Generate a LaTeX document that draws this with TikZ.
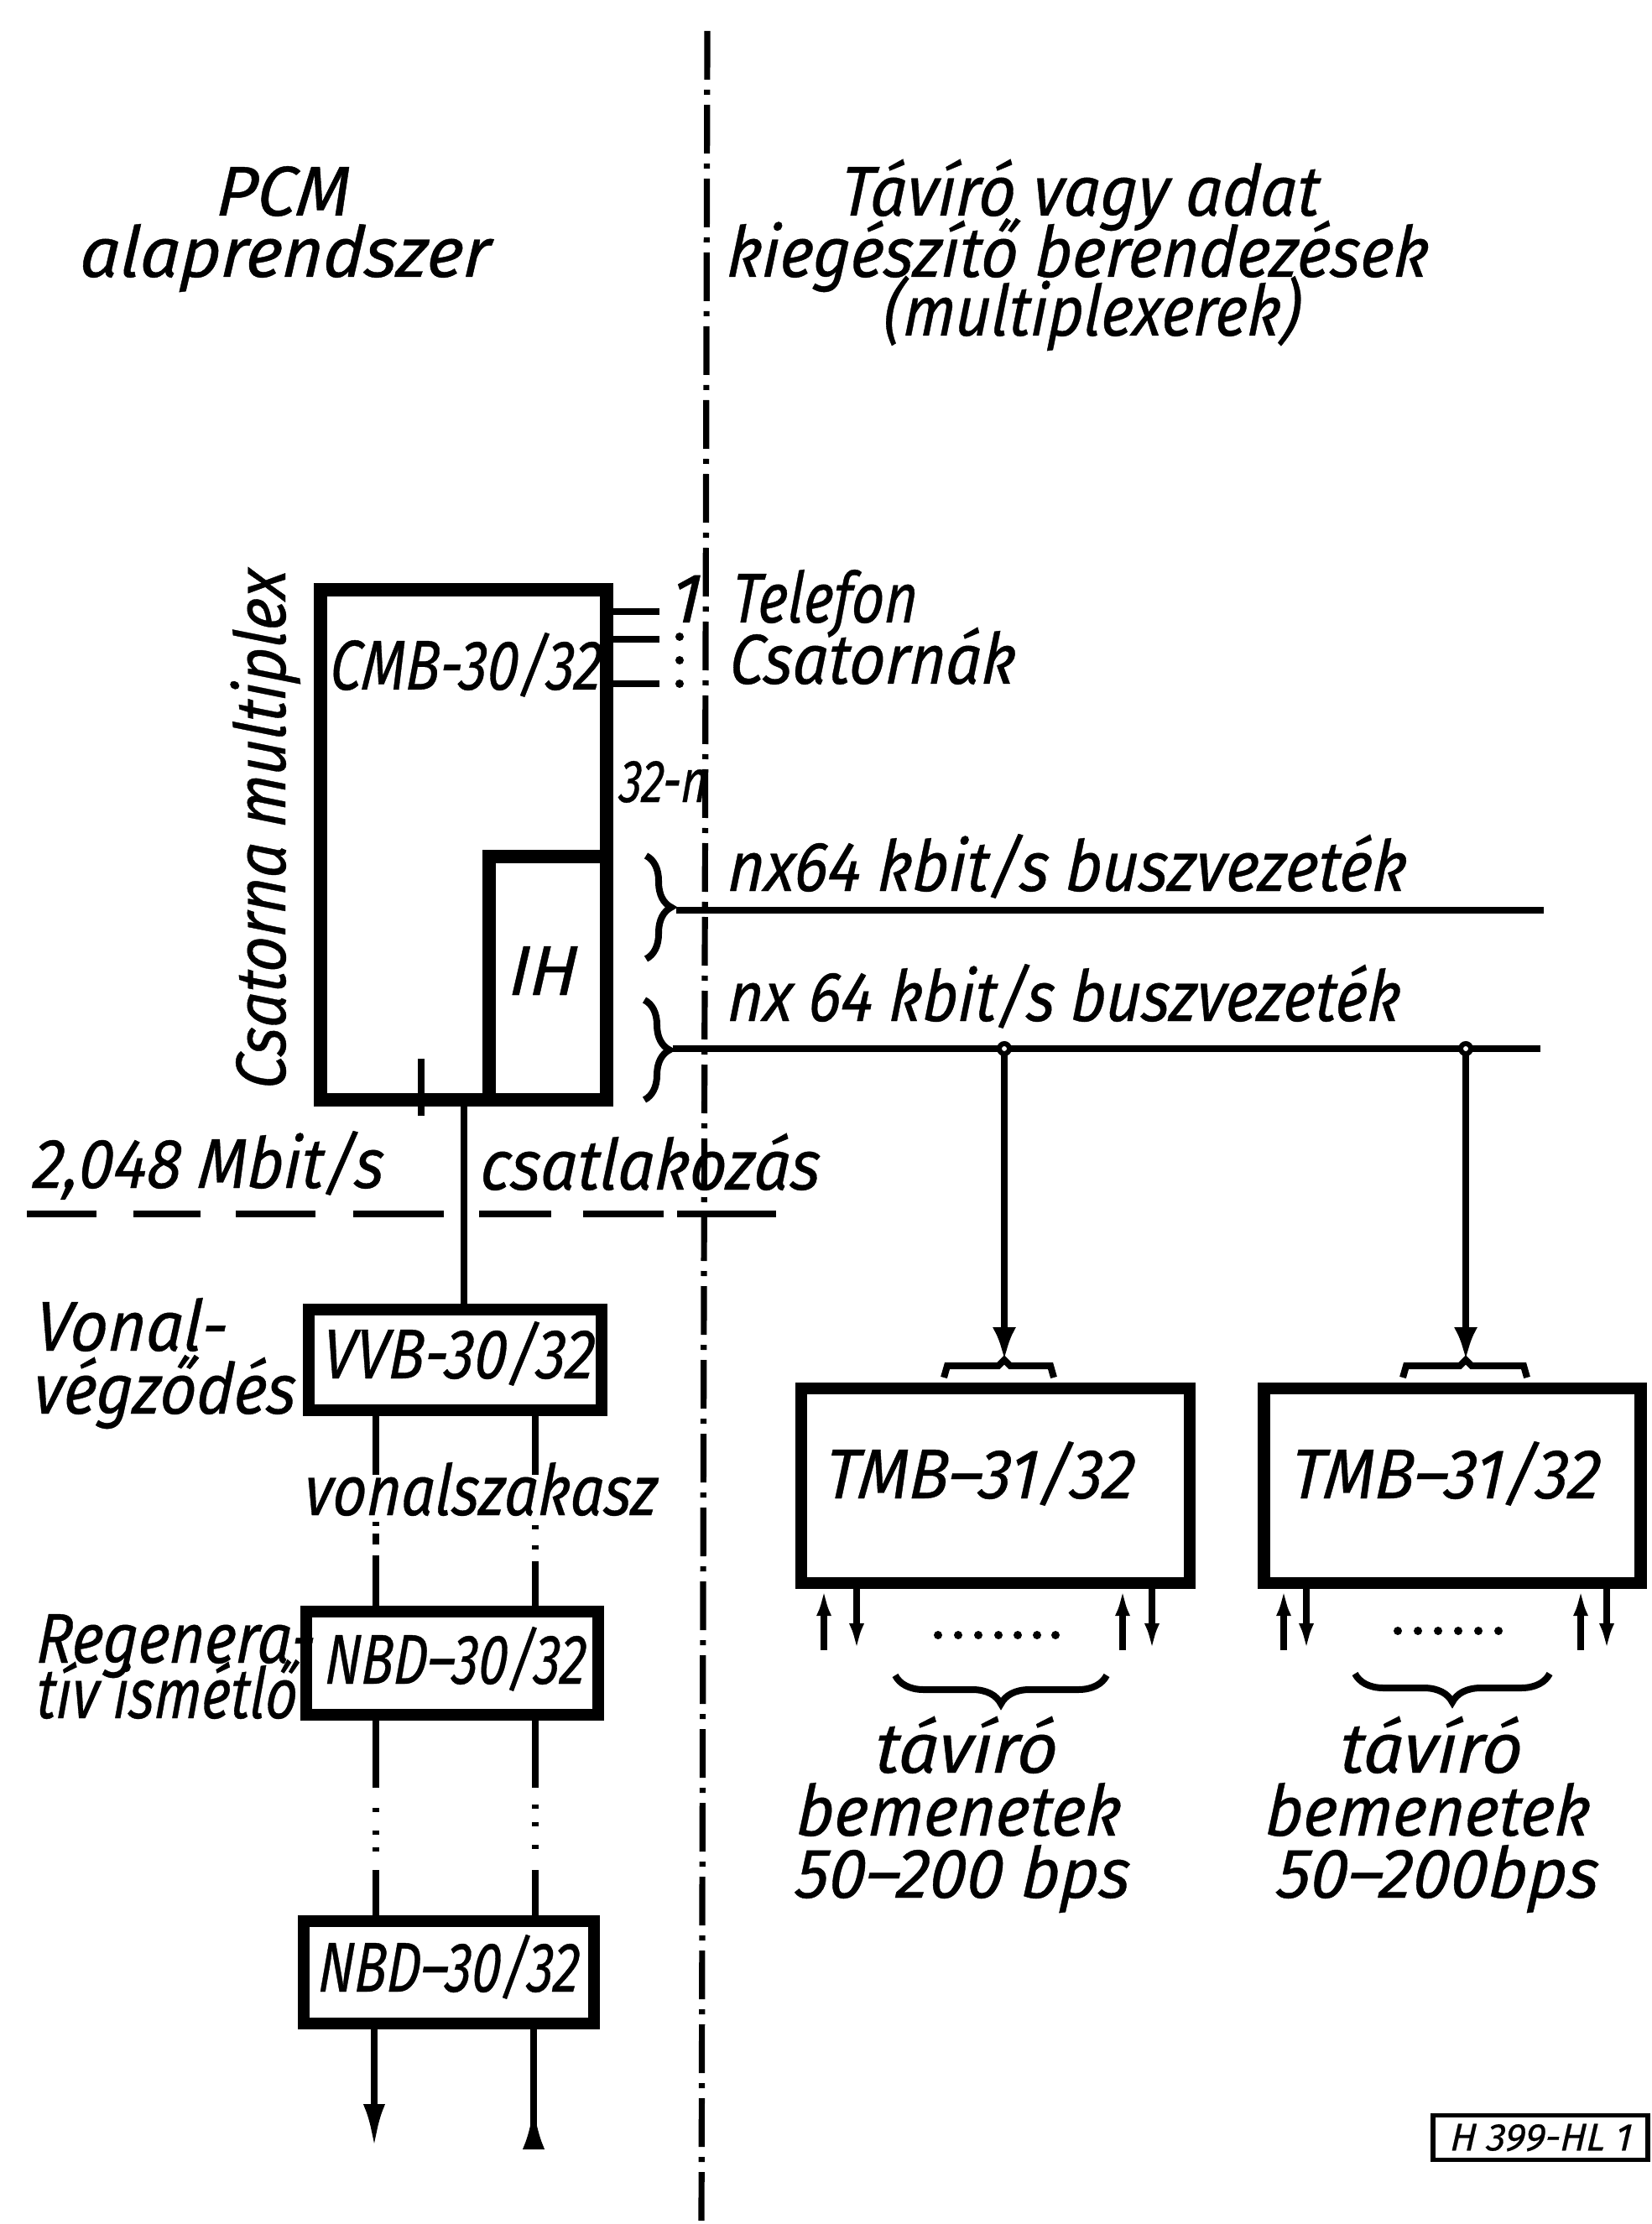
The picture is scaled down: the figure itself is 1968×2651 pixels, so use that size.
\documentclass[tikz,border=0pt]{standalone}
\usepackage{graphicx}
\usepackage{fontspec}
\setmainfont{Fira Sans}[FakeBold=0.5, ItalicFeatures={FakeSlant=0.09}]
\usetikzlibrary{arrows.meta,decorations.pathreplacing}
\newlength{\pu}
\setlength{\pu}{0.25pt}
\newcommand{\hs}[2]{\scalebox{#1}[1]{#2}}
\begin{document}
\begin{tikzpicture}[x=0.25pt, y=-0.25pt,
  lbl/.style={font=\fontsize{21pt}{25pt}\selectfont\itshape, inner sep=0pt, outer sep=0pt, text height=14.5pt, text depth=3.5pt},
  smalllbl/.style={font=\fontsize{18pt}{21pt}\selectfont\itshape, inner sep=0pt, outer sep=0pt, text height=12.5pt, text depth=3pt},
  box/.style={draw, line width=3.6pt, inner sep=0pt},
  thinline/.style={line width=2pt},
  busline/.style={line width=2.1pt},
  brc/.style={decorate, decoration={brace, amplitude=7.5pt}, line width=2pt},
  dotmark/.style={fill=black},
  bigarrow/.style={thinline, -{Latex[length=10pt,width=7pt]}},
  smallarrow/.style={thinline, -{Latex[length=8pt,width=4.5pt]}},
  endarrow/.style={thinline, -{Latex[length=13pt,width=6.5pt]}},
  endarrowrev/.style={thinline, -{Latex[length=13pt,width=6.5pt,reversed]}},
  junction/.style={circle, draw, fill=white, line width=1.5pt, inner sep=0pt, minimum size=12\pu}
  ]
\useasboundingbox (0,0) rectangle (1968,2651);

% separator (dash-dot)
\coordinate (sepT) at (843,37);
\coordinate (sepB) at (836,2651);
\draw[line width=1.8pt, dash pattern=on 14.5pt off 3pt on 1.5pt off 3pt] (sepT) -- (sepB);

% titles
\node[lbl, anchor=base] (pcm) at (336,257) {PCM};
\node[lbl, anchor=base] (alap) at (338,330) {alaprendszer};
\node[lbl, anchor=base] (tt1) at (1286,257) {\hs{0.915}{Távíró vagy adat}};
\node[lbl, anchor=base] (tt2) at (1283,330) {\hs{0.915}{kiegészítő berendezések}};
\node[lbl, anchor=base] (tt3) at (1300,400) {\hs{0.875}{(multiplexerek)}};

% CMB
\node[box, line width=3.9pt, minimum width=341\pu, minimum height=608\pu] (cmb) at (552.5,1007) {};
\node[box, line width=3.9pt, minimum width=140\pu, minimum height=290\pu] (ih) at (653,1166) {};
\node[lbl, anchor=base west] (cmbt) at (392,822) {\hs{0.81}{CMB-30/32}};
\node[lbl, anchor=base] (iht) at (646,1186) {IH};
\node[lbl, rotate=90, anchor=base] (csm) at (340,990) {\hs{0.87}{Csatorna multiplex}};
\draw[thinline] (502,1262) -- (502,1330);

% telephone channels
\coordinate (tl1) at (786,729);
\coordinate (tl2) at (786,762);
\coordinate (tl3) at (786,815);
\draw[thinline] (tl1 -| cmb.east) -- (tl1);
\draw[thinline] (tl2 -| cmb.east) -- (tl2);
\draw[thinline] (tl3 -| cmb.east) -- (tl3);
\node[lbl, anchor=base] (one) at (816,742) {1};
\fill[dotmark] (810,759) circle[radius=5];
\fill[dotmark] (810,787) circle[radius=5];
\fill[dotmark] (810,815) circle[radius=5];
\node[smalllbl, anchor=base west] (n32) at (737,956) {\hs{0.76}{32-n}};
\node[lbl, anchor=base west] (tel) at (871,742) {\hs{0.81}{Telefon}};
\node[lbl, anchor=base west] (csat) at (868,815) {\hs{0.89}{Csatornák}};

% braces and buses
\draw[brc] (770,1020) -- (770,1143);
\draw[brc] (768,1192) -- (768,1311);
\coordinate (bu0) at (806,1085);
\coordinate (bu1) at (1840,1085);
\coordinate (bl0) at (802,1250);
\coordinate (bl1) at (1836,1250);
\draw[busline] (bu0) -- (bu1);
\draw[busline] (bl0) -- (bl1);
\node[lbl, anchor=base west] (bt1) at (866,1062) {\hs{0.90}{nx64 kbit/s buszvezeték}};
\node[lbl, anchor=base west] (bt2) at (866,1217) {\hs{0.87}{nx 64 kbit/s buszvezeték}};

% TMB boxes
\node[box, minimum width=463\pu, minimum height=232\pu] (tmb1) at (1186.5,1771) {};
\node[box, minimum width=449\pu, minimum height=232\pu] (tmb2) at (1731,1771) {};
\node[lbl, anchor=base west] (tmbt1) at (982,1786) {\hs{0.94}{TMB–31/32}};
\node[lbl, anchor=base west] (tmbt2) at (1537,1786) {\hs{0.94}{TMB–31/32}};

% junctions and arrows to TMB
\coordinate (ar1) at (1197,1622);
\coordinate (ar2) at (1747,1622);
\draw[bigarrow] (1197,1250) -- (ar1);
\draw[bigarrow] (1747,1250) -- (ar2);
\node[junction] (j1) at (1197,1250) {};
\node[junction] (j2) at (1747,1250) {};
\draw[thinline] (1125,1642) -- (1129,1628) -- (1190,1628) -- (1197,1621) -- (1204,1628) -- (1252,1628) -- (1256,1642);
\draw[thinline] (1672,1642) -- (1676,1628) -- (1740,1628) -- (1747,1621) -- (1754,1628) -- (1816,1628) -- (1820,1642);

% TMB inputs
\coordinate (s1) at (982,1967);
\coordinate (s2) at (1021,1967);
\coordinate (s3) at (1338,1967);
\coordinate (s4) at (1373,1967);
\coordinate (s5) at (1530,1967);
\coordinate (s6) at (1557,1967);
\coordinate (s7) at (1884,1967);
\coordinate (s8) at (1915,1967);
\draw[smallarrow] (s1) -- (s1 |- tmb1.south);
\draw[smallarrow] (s2 |- tmb1.south) -- (s2);
\draw[smallarrow] (s3) -- (s3 |- tmb1.south);
\draw[smallarrow] (s4 |- tmb1.south) -- (s4);
\draw[smallarrow] (s5) -- (s5 |- tmb2.south);
\draw[smallarrow] (s6 |- tmb2.south) -- (s6);
\draw[smallarrow] (s7) -- (s7 |- tmb2.south);
\draw[smallarrow] (s8 |- tmb2.south) -- (s8);
\foreach \x in {1118,1142,1166,1190,1213,1236,1258} \fill[dotmark] (\x,1949) circle[radius=5];
\foreach \x in {1666,1690,1714,1738,1762,1786} \fill[dotmark] (\x,1944) circle[radius=5];
\draw[brc, decoration={brace, amplitude=8.5pt}] (1319,1997) -- (1067,1997);
\draw[brc, decoration={brace, amplitude=8.5pt}] (1847,1995) -- (1615,1995);
\node[lbl, anchor=base] (tv1) at (1150,2113) {távíró};
\node[lbl, anchor=base] (bm1) at (1141,2188) {\hs{0.93}{bemenetek}};
\node[lbl, anchor=base] (bp1) at (1146,2262) {\hs{0.955}{50–200 bps}};
\node[lbl, anchor=base] (tv2) at (1704,2113) {távíró};
\node[lbl, anchor=base] (bm2) at (1700,2188) {\hs{0.93}{bemenetek}};
\node[lbl, anchor=base] (bp2) at (1712,2262) {\hs{0.97}{50–200bps}};

% 2,048 Mbit/s interface
\node[lbl, anchor=base west] (mb) at (38,1416) {\hs{0.90}{2,048 Mbit/s}};
\node[lbl, anchor=base west] (csl) at (571,1418) {\hs{0.915}{csatlakozás}};
\coordinate (hd0) at (32,1447);
\coordinate (hd1) at (925,1447);
\draw[line width=1.8pt, dash pattern=on 20.75pt off 11pt on 20pt off 10.5pt on 23.75pt off 11.25pt on 27pt off 10.5pt on 21.5pt off 9.5pt on 24pt off 4pt on 29.5pt off 10pt] (hd0) -- (hd1);

% line equipment
\node[box, minimum width=349\pu, minimum height=120\pu] (vvb) at (542.5,1621) {};
\node[lbl, anchor=base west] (vvbt) at (383,1643) {\hs{0.85}{VVB-30/32}};
\node[lbl, anchor=base west] (von) at (41,1610) {\hs{0.93}{Vonal-}};
\node[lbl, anchor=base west] (veg) at (38,1685) {\hs{0.90}{végződés}};
\draw[thinline] (cmb.south) -- (cmb.south |- vvb.north);
\node[lbl, anchor=base west] (vsz) at (361,1806) {\hs{0.84}{vonalszakasz}};

\node[box, minimum width=348\pu, minimum height=123\pu] (nbd1) at (539,1982.5) {};
\node[lbl, anchor=base west] (nbdt1) at (386,2007) {\hs{0.76}{NBD–30/32}};
\node[lbl, anchor=base west, text depth=1pt] (reg) at (42,1982) {\hs{0.86}{Regenera-}};
\node[lbl, anchor=base west, text height=13pt, text depth=0pt] (tiv) at (42,2048) {\hs{0.79}{tív ismétlő}};

\node[box, minimum width=346\pu, minimum height=122\pu] (nbd2) at (535,2351) {};
\node[lbl, anchor=base west] (nbdt2) at (378,2374) {\hs{0.76}{NBD–30/32}};

\coordinate (xl) at (448,0);
\coordinate (xr) at (638,0);
\draw[thinline, dash pattern=on 17.5pt off 14pt on 1.25pt off 2.25pt on 3.25pt off 3.25pt on 15pt off 5pt] (vvb.south -| xl) -- (nbd1.north -| xl);
\draw[thinline, dash pattern=on 17.5pt off 15pt on 1.25pt off 4.75pt on 1.25pt off 3.5pt on 13.25pt off 5pt] (vvb.south -| xr) -- (nbd1.north -| xr);
\draw[thinline, dash pattern=on 20pt off 6pt on 1.25pt off 5.5pt on 1.25pt off 3.75pt on 1.25pt off 5.5pt on 13.5pt off 5pt] (nbd1.south -| xl) -- (nbd2.north -| xl);
\draw[thinline, dash pattern=on 20pt off 5pt on 1.25pt off 4pt on 1.25pt off 5.5pt on 1.25pt off 6.25pt on 13.5pt off 5pt] (nbd1.south -| xr) -- (nbd2.north -| xr);

\coordinate (e1) at (446,2560);
\coordinate (e2) at (636,2562);
\draw[endarrow] (nbd2.south -| e1) -- (e1);
\draw[endarrowrev] (nbd2.south -| e2) -- (e2);

% drawing number
\node[draw, line width=1.4pt, font=\fontsize{11.5pt}{13pt}\selectfont\itshape, inner xsep=5pt, inner ysep=2.5pt] (hl) at (1836,2548) {H 399-HL 1};
\end{tikzpicture}
\end{document}
